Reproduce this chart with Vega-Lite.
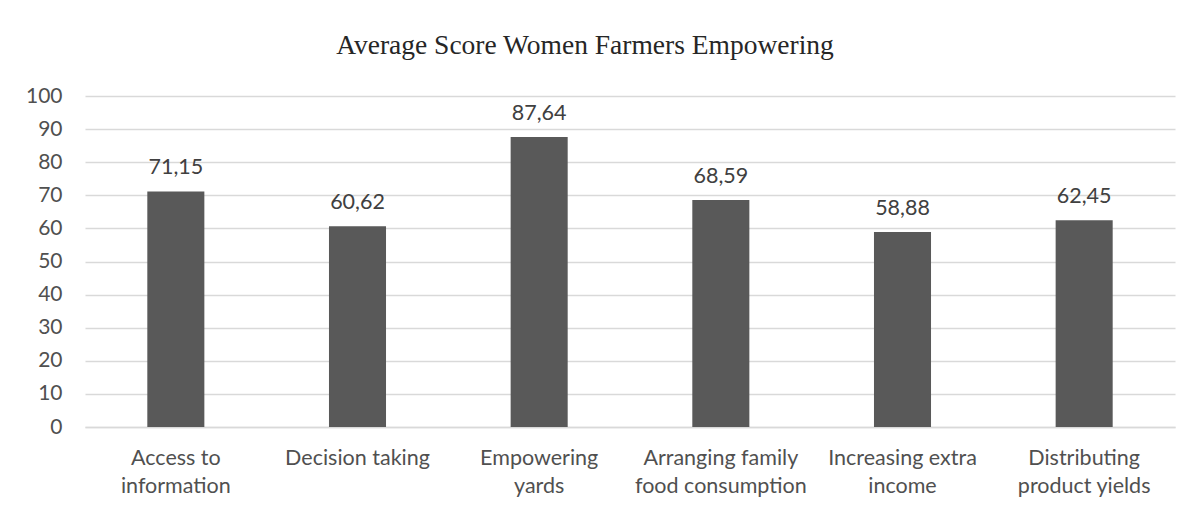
{
  "$schema": "https://vega.github.io/schema/vega-lite/v6.json",
  "autosize": {"type": "none"},
  "width": 1090,
  "height": 331,
  "padding": {"left": 85, "top": 96, "right": 20, "bottom": 81},
  "background": "white",
  "title": {
    "text": "Average Score Women Farmers Empowering",
    "font": "Liberation Serif",
    "fontSize": 27.5,
    "fontWeight": "normal",
    "color": "#262626",
    "anchor": "middle",
    "baseline": "alphabetic",
    "offset": 4,
    "dx": -45
  },
  "data": {
    "values": [
      {"category": "Access to|information", "score": 71.15, "text": "71,15"},
      {"category": "Decision taking", "score": 60.62, "text": "60,62"},
      {"category": "Empowering|yards", "score": 87.64, "text": "87,64"},
      {"category": "Arranging family|food consumption", "score": 68.59, "text": "68,59"},
      {"category": "Increasing extra|income", "score": 58.88, "text": "58,88"},
      {"category": "Distributing|product yields", "score": 62.45, "text": "62,45"}
    ]
  },
  "encoding": {
    "x": {
      "field": "category",
      "type": "nominal",
      "sort": null,
      "scale": {"paddingInner": 0.686, "paddingOuter": 0.343},
      "axis": {
        "title": null,
        "labelAngle": 0,
        "labelExpr": "split(datum.label, '|')",
        "labelFont": "Lato",
        "labelFontSize": 21.5,
        "labelColor": "#505050",
        "labelBaseline": "top",
        "labelPadding": 20,
        "labelLineHeight": 28,
        "ticks": false,
        "domainColor": "#d9d9d9",
        "domainWidth": 1.3
      }
    },
    "y": {
      "field": "score",
      "type": "quantitative",
      "scale": {"domain": [0, 100], "nice": false},
      "axis": {
        "title": null,
        "values": [0, 10, 20, 30, 40, 50, 60, 70, 80, 90, 100],
        "labelFont": "Lato",
        "labelFontSize": 21,
        "labelColor": "#505050",
        "labelPadding": 23,
        "ticks": false,
        "domain": false,
        "gridColor": "#d9d9d9",
        "gridWidth": 1.3
      }
    }
  },
  "layer": [
    {"mark": {"type": "bar", "color": "#595959"}},
    {
      "mark": {
        "type": "text",
        "font": "Lato",
        "fontSize": 21.5,
        "color": "#404040",
        "baseline": "alphabetic",
        "dy": -17
      },
      "encoding": {"text": {"field": "text"}}
    }
  ],
  "config": {"view": {"stroke": null}}
}
